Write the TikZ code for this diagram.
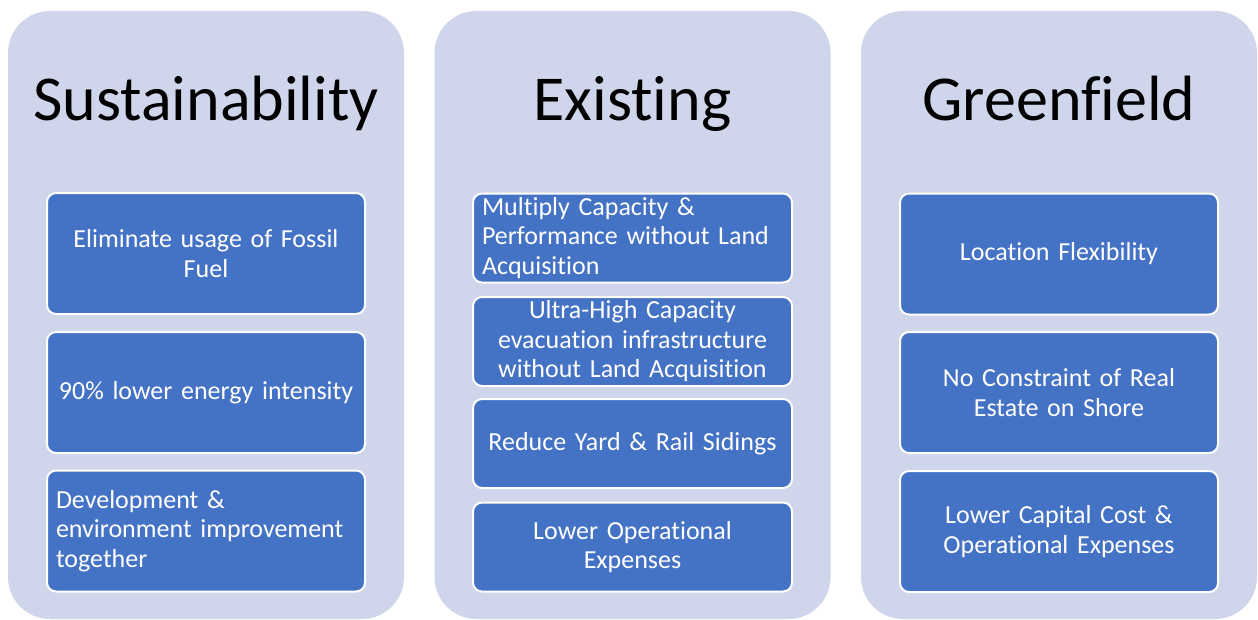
\documentclass[tikz,border=0pt]{standalone}
\usepackage{fontspec}
\setmainfont{Carlito}[Ligatures=NoCommon]
\definecolor{lavender}{HTML}{CFD5EA}
\definecolor{itemblue}{HTML}{4472C4}
\begin{document}
\begin{tikzpicture}[x=1pt,y=-1pt,
    panel/.style={fill=lavender, rounded corners=42pt, minimum width=396pt,
      minimum height=608pt, inner sep=0pt},
    heading/.style={font=\fontsize{64}{76}\selectfont, inner sep=0pt, anchor=base},
    item/.style={fill=itemblue, draw=white, line width=2pt, rounded corners=9pt,
      text=white, font=\fontsize{26}{29.5}\selectfont, text width=300pt,
      inner xsep=9pt, inner ysep=1pt, align=center}]

  \useasboundingbox (0,0) rectangle (1258,619);

  \begin{scope}[every node/.style={panel}]
    \node (p1) at (206,315)   {};
    \node (p2) at (632.5,315) {};
    \node (p3) at (1059,315)  {};
  \end{scope}

  \begin{scope}[every node/.style={heading}]
    \node (h1) at (206,120)   {Sustainability};
    \node (h2) at (632.5,120) {Existing};
    \node (h3) at (1059,120)  {Greenfield};
  \end{scope}

  \begin{scope}[every node/.style={item, minimum height=121pt}]
    \node (s1) at (206,253.5) {Eliminate usage of Fossil\\Fuel};
    \node (s2) at (206,392.5) {90\% lower energy intensity};
    \node[align=left] (s3) at (206,531) {Development \&\\environment improvement\\together};

    \node (g1) at (1059,254)   {Location Flexibility};
    \node (g2) at (1059,392.5) {No Constraint of Real\\Estate on Shore};
    \node (g3) at (1059,531.5) {Lower Capital Cost \&\\Operational Expenses};
  \end{scope}

  \begin{scope}[every node/.style={item, minimum height=89pt, text width=301pt}]
    \node[align=left] (e1) at (632.5,238) {Multiply Capacity \&\\Performance without Land\\Acquisition};
    \node (e2) at (632.5,341.5) {Ultra-High Capacity\\evacuation infrastructure\\without Land Acquisition};
    \node (e3) at (632.5,443.5) {Reduce Yard \& Rail Sidings};
    \node (e4) at (632.5,547)   {Lower Operational\\Expenses};
  \end{scope}

\end{tikzpicture}
\end{document}
